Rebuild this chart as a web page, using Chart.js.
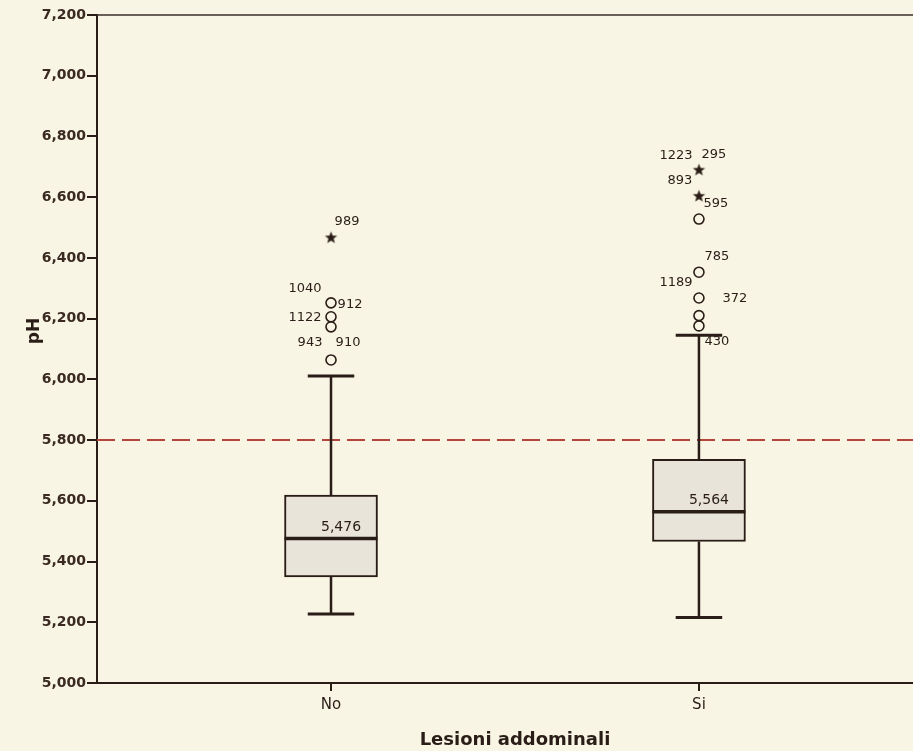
<!DOCTYPE html>
<html>
<head>
<meta charset="utf-8">
<script src="https://cdn.jsdelivr.net/npm/chart.js@4.4.1/dist/chart.umd.min.js"></script>
<style>
  html, body { margin: 0; padding: 0; background: #f8f5e4; overflow: hidden; }
</style>
</head>
<body>
<canvas id="c" width="913" height="751"></canvas>
<script>
// --- datos del boxplot (pH por lesioni addominali) ---
const groups = ['No', 'Si'];
const whiskerLow = [5227, 5216];
const q1 = [5349, 5466];
const median = [5476, 5564];
const q3 = [5619, 5737];
const whiskerHigh = [6011, 6145];

// outliers (circles) and extremes (stars), per group
const outlierNo = [6252, 6206, 6173, 6064];
const outlierSi = [6176, 6210, 6268, 6353, 6528];
const extremeNo = [6466];
const extremeSi = [6603, 6689];

// case numbers printed next to each mark (same order as above)
const outlierNoIds = [['1040', '912'], ['1122'], [], ['943', '910']];
const outlierSiIds = [['430'], [], ['372'], ['785', '1189'], []];
const extremeNoIds = [['989']];
const extremeSiIds = [['595'], ['1223', '295', '893']];

const refLine = 5800;
const yTicks = { min: 5000, max: 7200, step: 200 };
const xTitle = 'Lesioni addominali';
const yTitle = 'pH';

// where each case number sits relative to its mark (px)
const idOffsets = {
  '1040': [-26, -14], '912': [19, 2], '1122': [-26, 1], '943': [-21, -17], '910': [17, -17],
  '989': [16, -16],
  '430': [18, 16], '372': [36, 1], '785': [18, -16], '1189': [-23, 10],
  '595': [17, 7], '1223': [-23, -15], '295': [15, -16], '893': [-19, 10]
};

const PAPER = '#f8f5e4';
const INK = '#2a1c16';
const BOXFILL = '#e8e4da';
const RED = '#b3453b';

function makeStar(r) {
    const cv = document.createElement('canvas');
    const s = Math.ceil(r * 2 + 2);
    cv.width = s; cv.height = s;
    const g = cv.getContext('2d');
    g.fillStyle = INK;
    g.beginPath();
    for (let i = 0; i < 10; i++) {
        const a = -Math.PI / 2 + i * Math.PI / 5;
        const rr = i % 2 ? r * 0.42 : r;
        g.lineTo(s / 2 + rr * Math.cos(a), s / 2 + rr * Math.sin(a));
    }
    g.closePath();
    g.fill();
    return cv;
}
const starImg = makeStar(6.5);

const paperPlugin = {
    id: 'paper',
    beforeDraw(chart) {
        const c = chart.ctx;
        c.save();
        c.fillStyle = PAPER;
        c.fillRect(0, 0, chart.width, chart.height);
        c.restore();
    }
};

const boxPartsPlugin = {
    id: 'boxParts',
    beforeDatasetsDraw(chart) {
        const c = chart.ctx, y = chart.scales.y, area = chart.chartArea;
        const py = y.getPixelForValue(refLine);
        c.save();
        c.strokeStyle = RED;
        c.lineWidth = 2;
        c.setLineDash([18, 7]);
        c.beginPath();
        c.moveTo(area.left, py);
        c.lineTo(chart.width, py);
        c.stroke();
        c.restore();
    },
    afterDatasetsDraw(chart) {
        const c = chart.ctx, x = chart.scales.x, y = chart.scales.y;
        const bars = chart.getDatasetMeta(0).data;
        c.save();
        c.strokeStyle = INK;
        c.fillStyle = INK;
        groups.forEach((g, i) => {
            const px = x.getPixelForValue(i + 1);
            const half = bars[i].width / 2;
            const capHalf = half / 2;
            // whisker stems
            c.lineWidth = 2.5;
            c.beginPath();
            c.moveTo(px, y.getPixelForValue(q1[i]));
            c.lineTo(px, y.getPixelForValue(whiskerLow[i]));
            c.moveTo(px, y.getPixelForValue(q3[i]));
            c.lineTo(px, y.getPixelForValue(whiskerHigh[i]));
            c.stroke();
            // caps
            c.lineWidth = 3;
            c.beginPath();
            [whiskerLow[i], whiskerHigh[i]].forEach(v => {
                const yy = y.getPixelForValue(v);
                c.moveTo(px - capHalf, yy);
                c.lineTo(px + capHalf, yy);
            });
            c.stroke();
            // median
            const my = y.getPixelForValue(median[i]);
            c.lineWidth = 3.5;
            c.beginPath();
            c.moveTo(px - half, my);
            c.lineTo(px + half, my);
            c.stroke();
            c.font = '14px "DejaVu Sans"';
            c.textAlign = 'center';
            c.textBaseline = 'middle';
            c.fillText(median[i].toLocaleString('en-US'), px + 10, my - 11);
        });
        // case numbers
        c.font = '13px "DejaVu Sans"';
        c.textAlign = 'center';
        c.textBaseline = 'middle';
        const put = (vals, ids, g) => vals.forEach((v, k) => {
            const px = x.getPixelForValue(g), py = y.getPixelForValue(v);
            (ids[k] || []).forEach(id => {
                const o = idOffsets[id] || [16, 0];
                c.fillText(id, px + o[0], py + o[1]);
            });
        });
        put(outlierNo, outlierNoIds, 1);
        put(extremeNo, extremeNoIds, 1);
        put(outlierSi, outlierSiIds, 2);
        put(extremeSi, extremeSiIds, 2);
        c.restore();
    },
    afterDraw(chart) {
        const c = chart.ctx, area = chart.chartArea, x = chart.scales.x;
        c.save();
        // top frame, and the axis line running on to the edge
        c.strokeStyle = '#3a2e28';
        c.lineWidth = 1.5;
        c.beginPath();
        c.moveTo(area.left, area.top);
        c.lineTo(chart.width, area.top);
        c.stroke();
        c.strokeStyle = INK;
        c.lineWidth = 2;
        c.beginPath();
        c.moveTo(area.right - 1, area.bottom);
        c.lineTo(chart.width, area.bottom);
        c.stroke();
        // axis titles
        c.fillStyle = INK;
        c.font = 'bold 18px "DejaVu Sans"';
        c.textAlign = 'center';
        c.textBaseline = 'middle';
        c.fillText(xTitle, x.getPixelForValue(1.5), 740);
        c.font = 'bold 17px "DejaVu Sans"';
        c.translate(35, 331);
        c.rotate(-Math.PI / 2);
        c.fillText(yTitle, 0, 0);
        c.restore();
    }
};

const ctx = document.getElementById('c');
new Chart(ctx, {
    type: 'bar',
    data: {
        datasets: [
            {
                type: 'bar',
                data: groups.map((g, i) => ({ x: i + 1, y: [q1[i], q3[i]] })),
                backgroundColor: BOXFILL,
                borderColor: INK,
                borderWidth: 2,
                borderSkipped: false,
                barThickness: 93,
                order: 3
            },
            {
                type: 'line',
                data: outlierNo.map(v => ({ x: 1, y: v })).concat(outlierSi.map(v => ({ x: 2, y: v }))),
                showLine: false,
                pointStyle: 'circle',
                pointRadius: 5,
                pointBorderWidth: 1.6,
                pointBorderColor: INK,
                pointBackgroundColor: PAPER,
                order: 1
            },
            {
                type: 'line',
                data: extremeNo.map(v => ({ x: 1, y: v })).concat(extremeSi.map(v => ({ x: 2, y: v }))),
                showLine: false,
                pointStyle: starImg,
                pointRadius: 7,
                order: 0
            }
        ]
    },
    options: {
        responsive: false,
        animation: false,
        events: [],
        layout: { padding: { top: 15, right: 0, left: 0, bottom: 0 } },
        plugins: { legend: { display: false }, tooltip: { enabled: false } },
        scales: {
            x: {
                type: 'linear',
                offset: false,
                min: 0.364,
                max: 2.56,
                afterBuildTicks: s => { s.ticks = groups.map((g, i) => ({ value: i + 1 })); },
                afterFit: s => { s.height = 68; },
                ticks: {
                    callback: v => groups[v - 1],
                    font: { family: 'DejaVu Sans', size: 15 },
                    color: INK,
                    padding: 5,
                    maxRotation: 0
                },
                grid: { offset: false, drawOnChartArea: false, drawTicks: true, tickLength: 8, color: INK, lineWidth: 2 },
                border: { color: INK, width: 2 }
            },
            y: {
                min: yTicks.min,
                max: yTicks.max,
                afterFit: s => { s.width = 97; },
                ticks: {
                    stepSize: yTicks.step,
                    callback: v => v.toLocaleString('en-US'),
                    font: { family: 'DejaVu Sans', size: 14, weight: 'bold' },
                    color: '#3a2a22',
                    padding: 1
                },
                grid: { drawOnChartArea: false, drawTicks: true, tickLength: 10, color: INK, lineWidth: 2 },
                border: { color: INK, width: 2 }
            }
        }
    },
    plugins: [paperPlugin, boxPartsPlugin]
});
</script>
</body>
</html>
